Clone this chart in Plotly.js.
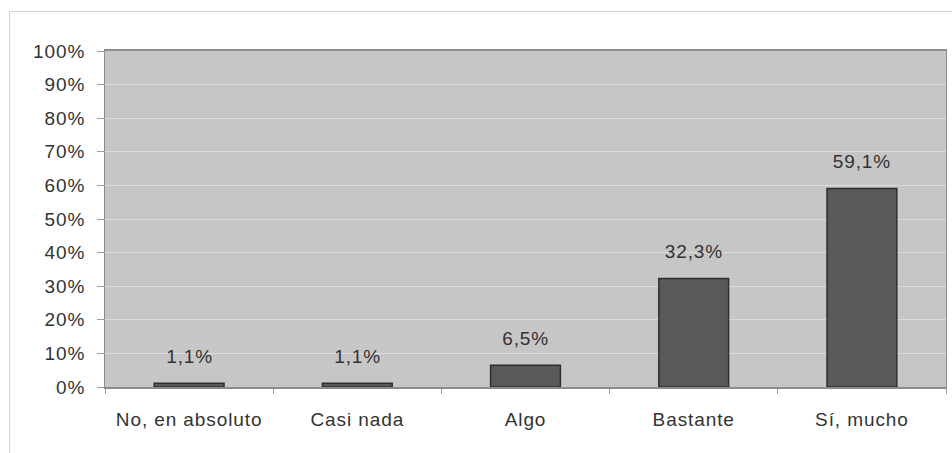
<!DOCTYPE html>
<html>
<head>
<meta charset="utf-8">
<script src="https://cdn.plot.ly/plotly-3.0.1.min.js"></script>
<style>
  html, body { margin: 0; padding: 0; background: #ffffff; }
  #wrap { position: relative; width: 952px; height: 453px; overflow: hidden; }
  #frame { position: absolute; left: 9px; top: 11px; width: 960px; height: 460px;
           border: 1px solid #d4d4d4; box-sizing: border-box; pointer-events: none; }
  #chart { position: absolute; left: 0; top: 0; width: 952px; height: 453px; }
  #chart text { letter-spacing: 0.9px; }
</style>
</head>
<body>
<div id="wrap">
  <div id="chart"></div>
  <div id="frame"></div>
</div>
<script>
// Response categories and their share of answers (%)
const categories = ["No, en absoluto", "Casi nada", "Algo", "Bastante", "Sí, mucho"];
const values = [1.1, 1.1, 6.5, 32.3, 59.1];
const yTickValues = [0, 10, 20, 30, 40, 50, 60, 70, 80, 90, 100];
const yTickLabels = ["0%", "10%", "20%", "30%", "40%", "50%", "60%", "70%", "80%", "90%", "100%"];

// Percent label with a decimal comma
const fmt = v => v.toFixed(1).replace(".", ",") + "%";

const font = { family: "Liberation Sans, Arial, sans-serif", size: 19, color: "#333333" };

const trace = {
  type: "bar",
  x: categories,
  y: values,
  marker: { color: "#595959", line: { color: "#2e2e2e", width: 1.5 } },
  width: 0.415,
  hoverinfo: "skip"
};

const annotations = categories.map((c, i) => ({
  x: c, y: values[i], xref: "x", yref: "y",
  text: fmt(values[i]), showarrow: false,
  yanchor: "bottom", yshift: 14, font: font
}));

const layout = {
  width: 952, height: 453,
  margin: { l: 105, r: 6, t: 51, b: 66 },
  paper_bgcolor: "#ffffff",
  plot_bgcolor: "#c6c6c6",
  showlegend: false,
  font: font,
  xaxis: {
    type: "category",
    tickson: "boundaries",
    ticks: "outside", ticklen: 5, tickcolor: "#9a9a9a",
    showgrid: false,
    showline: true, linecolor: "#8c8c8c", linewidth: 2, mirror: true,
    tickfont: font,
    ticklabelstandoff: 14
  },
  yaxis: {
    range: [0, 100],
    tickvals: yTickValues,
    ticktext: yTickLabels,
    ticks: "outside", ticklen: 7, tickcolor: "#9a9a9a",
    showgrid: true, gridcolor: "#dcdcdc", gridwidth: 1,
    zeroline: false,
    showline: true, linecolor: "#8c8c8c", linewidth: 1, mirror: true,
    tickfont: font,
    ticklabelstandoff: 8
  },
  annotations: annotations
};

Plotly.newPlot("chart", [trace], layout, { staticPlot: true, displayModeBar: false });
</script>
</body>
</html>
